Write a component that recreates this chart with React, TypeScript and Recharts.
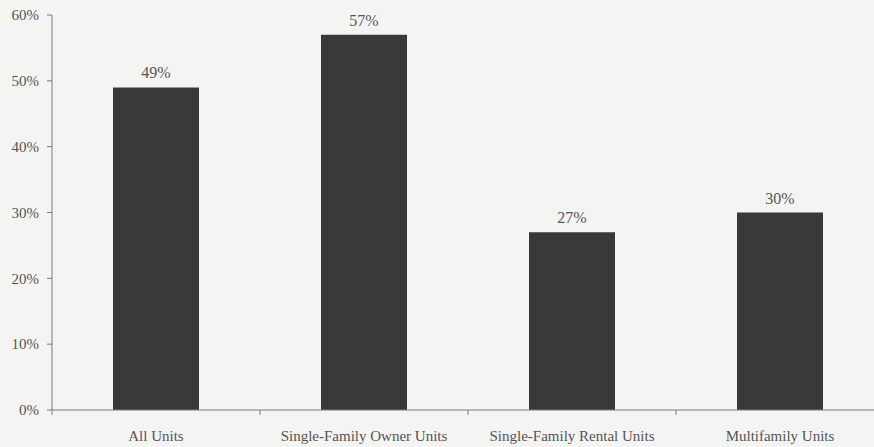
import { BarChart, Bar, XAxis, YAxis, LabelList } from 'recharts'

const categories = ['All Units', 'Single-Family Owner Units', 'Single-Family Rental Units', 'Multifamily Units']
const shares = [49, 57, 27, 30]
const yTicks = [0, 10, 20, 30, 40, 50, 60]

const data = categories.map((name, i) => ({ name, share: shares[i] }))

const TEXT = '#555555'
const AXIS = '#7a7a7a'
const FONT = '"Liberation Serif", "Times New Roman", serif'

// category label in the middle of the band, tick mark on the band's left edge
function CategoryTick(props: any) {
  const { x, y, payload, width } = props
  const band = width / categories.length
  const edge = x - band / 2
  return (
    <g>
      <line x1={edge} y1={y} x2={edge} y2={y + 5} stroke={AXIS} strokeWidth={1} />
      <text x={x} y={y + 31} textAnchor="middle" fill={TEXT} fontSize={15} fontFamily={FONT}>
        {payload.value}
      </text>
    </g>
  )
}

export default function App() {
  return (
    <div style={{ position: 'absolute', left: 0, top: 0, width: 874, height: 447, overflow: 'hidden', background: '#f4f4f3' }}>
      <BarChart
        width={874}
        height={447}
        data={data}
        margin={{ top: 15, right: -10, left: 0, bottom: 0 }}
        style={{ overflow: 'visible' }}
      >
        <YAxis
          width={52}
          domain={[0, 60]}
          ticks={yTicks}
          tickFormatter={(v: number) => `${v}%`}
          tick={{ fill: TEXT, fontSize: 15, fontFamily: FONT }}
          axisLine={{ stroke: AXIS }}
          tickLine={{ stroke: AXIS }}
          tickSize={5}
          tickMargin={8}
        />
        <XAxis
          dataKey="name"
          height={37}
          axisLine={{ stroke: AXIS }}
          tickLine={false}
          tickSize={0}
          tickMargin={0}
          interval={0}
          tick={<CategoryTick />}
        />
        <Bar dataKey="share" fill="#393939" barSize={86} isAnimationActive={false}>
          <LabelList
            dataKey="share"
            position="top"
            offset={9}
            formatter={(v: number) => `${v}%`}
            fill={TEXT}
            fontSize={16}
            fontFamily={FONT}
          />
        </Bar>
      </BarChart>
    </div>
  )
}
